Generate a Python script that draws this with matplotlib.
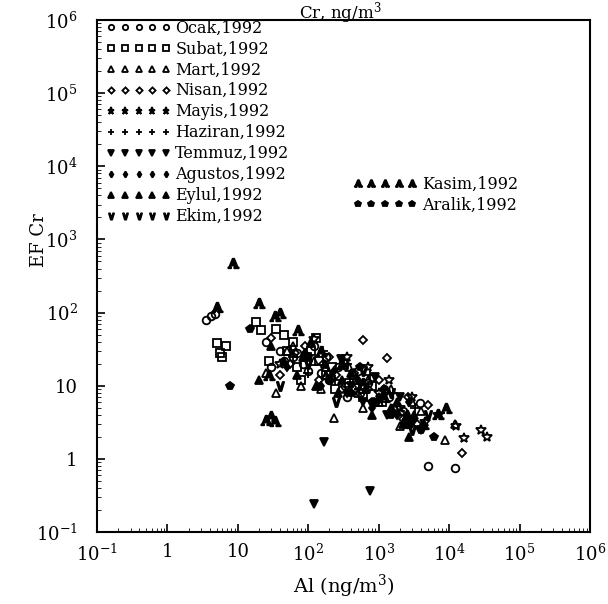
import numpy as np
import matplotlib
matplotlib.use("Agg")
import matplotlib.pyplot as plt
import matplotlib.ticker as mticker

plt.rcParams['font.family'] = ['DejaVu Serif']
plt.rcParams['mathtext.fontset'] = 'dejavuserif'

# Al (ng/m3) and EF Cr per month
ocak_al = [3.5, 4.1, 4.8, 25, 40, 60, 85, 120, 150, 200, 260, 330, 420, 550, 700, 900, 1200, 1600, 2200, 3000, 3900, 5000, 12000,
           30, 45, 70, 100, 180, 350, 500, 800, 1400, 2500]
ocak_ef = [80, 90, 95, 40, 30, 25, 20, 35, 15, 12, 18, 10, 14, 8, 11, 6, 9, 5, 4.5, 3.5, 5.8, 0.8, 0.75,
           18, 22, 28, 16, 25, 7, 16, 13, 7, 3]
subat_al = [5.0, 5.5, 6.0, 6.7, 18, 21, 35, 45, 60, 80, 110, 140, 180, 240, 320, 450, 600, 800, 1100,
            28, 50, 70, 95, 130, 220, 380]
subat_ef = [38, 28, 25, 35, 75, 58, 60, 50, 40, 12, 30, 22, 14, 9, 20, 12, 7, 10, 6,
            22, 30, 18, 25, 45, 18, 11]
mart_al = [25, 50, 80, 120, 180, 230, 380, 500, 700, 1000, 1500, 2500, 4000, 8700, 12000, 35, 60, 150, 600, 2000, 3000]
mart_ef = [15, 30, 10, 22, 14, 3.6, 18, 8, 12, 6, 9, 4, 4.5, 1.8, 3, 8, 35, 9, 5, 2.8, 6]
nisan_al = [30, 55, 90, 140, 200, 300, 450, 600, 850, 1300, 1800, 2600, 3500, 5000, 15000, 40, 65, 160, 250, 700, 1000, 2200]
nisan_ef = [45, 20, 35, 12, 25, 9, 15, 42, 6, 24, 5, 7, 3, 5.5, 1.2, 14, 28, 20, 14, 9, 12, 3.5]
mayis_al = [40, 120, 200, 350, 500, 700, 1000, 1400, 2000, 3000, 4500, 7000, 12500, 16000, 28000, 34000]
mayis_ef = [20, 44, 15, 25, 10, 18, 8, 12, 5, 7, 3.2, 4, 2.8, 1.9, 2.5, 2.0]
haziran_al = [60, 100, 160, 240, 360, 520, 750, 1100, 1600, 2300, 3300]
haziran_ef = [25, 15, 30, 12, 20, 9, 14, 6, 8, 4, 5]
temmuz_al = [120, 760, 165, 290, 400, 600, 900, 1300, 2000, 3000, 4000]
temmuz_ef = [0.24, 0.36, 1.7, 23, 10, 6, 13, 4, 7, 3, 2.5]
agustos_al = [50, 90, 150, 230, 350, 500, 800, 1200, 1800, 2700]
agustos_ef = [18, 28, 10, 16, 8, 12, 5, 9, 4, 6]
eylul_al = [20, 45, 70, 110, 170, 260, 400, 650, 1000, 1500, 2200, 3200, 30, 85, 130, 300, 800, 1800, 2700]
eylul_ef = [12, 22, 14, 40, 20, 8, 15, 9, 7, 5, 3, 4, 35, 25, 10, 12, 4, 6, 2]
ekim_al = [40, 100, 250, 600, 1500, 3000, 5000]
ekim_ef = [10, 20, 6, 16, 8, 2.5, 4]
kasim_al = [8.4, 5.0, 20, 34, 40, 72, 25, 30, 34, 28, 150, 300, 600, 1200, 2500, 4200, 6900, 8900]
kasim_ef = [470, 120, 137, 90, 100, 57, 3.4, 3.8, 3.3, 14, 30, 20, 11, 7, 4, 3, 4.1, 5]
aralik_al = [7.8, 15, 550, 100, 200, 400, 800, 1500, 2500, 4000, 6000]
aralik_ef = [10, 60, 18, 25, 12, 8, 6, 4, 3, 2.5, 2]

months = ["Ocak,1992", "Subat,1992", "Mart,1992", "Nisan,1992", "Mayis,1992",
          "Haziran,1992", "Temmuz,1992", "Agustos,1992", "Eylul,1992", "Ekim,1992",
          "Kasim,1992", "Aralik,1992"]
series = [(ocak_al, ocak_ef), (subat_al, subat_ef), (mart_al, mart_ef),
          (nisan_al, nisan_ef), (mayis_al, mayis_ef), (haziran_al, haziran_ef),
          (temmuz_al, temmuz_ef), (agustos_al, agustos_ef), (eylul_al, eylul_ef),
          (ekim_al, ekim_ef), (kasim_al, kasim_ef), (aralik_al, aralik_ef)]
# marker, size, filled
styles = [('o', 5.5, False), ('s', 5.5, False), ('^', 5.5, False), ('D', 4.5, False),
          ('*', 7.5, False), ('+', 6.5, False), ('v', 5.5, True), ('d', 4.5, True),
          ('^', 5.5, True), (r'$\vee$', 6.5, True), (r'$\mathbf{A}$', 7.5, True),
          ('p', 5.5, True)]

fig = plt.figure(figsize=(6.08, 6.04), dpi=100)
ax = fig.add_axes([97/608, 1-532/604, (590-97)/608, (532-20)/604])

handles = []
for (xs, ys), (m, s, filled), lab in zip(series, styles, months):
    h, = ax.plot(xs, ys, ls='none', marker=m, ms=s, color='k',
                 mfc='k' if filled else 'none', mew=1.3, label=lab)
    handles.append(h)

ax.set_xscale('log')
ax.set_yscale('log')
ax.set_xlim(0.1, 1e6)
ax.set_ylim(0.1, 1e6)

def fmt(v, pos):
    e = int(round(np.log10(v)))
    if e == 0:
        return '1'
    if e == 1:
        return '10'
    return r'$10^{%d}$' % e

for a in (ax.xaxis, ax.yaxis):
    a.set_major_locator(mticker.LogLocator(base=10, numticks=20))
    a.set_minor_locator(mticker.LogLocator(base=10, subs=np.arange(2, 10), numticks=20))
    a.set_major_formatter(mticker.FuncFormatter(fmt))
    a.set_minor_formatter(mticker.NullFormatter())
ax.tick_params(which='both', direction='in', top=False, right=False, labelsize=13)
ax.tick_params(axis='y', which='major', pad=14)
ax.tick_params(axis='x', which='major', pad=8)
ax.tick_params(which='major', length=6, width=1.2)
ax.tick_params(which='minor', length=3)
for sp in ax.spines.values():
    sp.set_linewidth(1.5)

leg1 = ax.legend(handles=handles[:10], loc='upper left', bbox_to_anchor=(0.0, 1.02),
                 numpoints=5, frameon=False, fontsize=11.5, handlelength=4.0,
                 handletextpad=0.3, labelspacing=0.25, borderaxespad=0.2,
                 markerscale=0.7)
ax.add_artist(leg1)
ax.legend(handles=handles[10:], loc='upper left', bbox_to_anchor=(0.5, 0.715),
          numpoints=5, frameon=False, fontsize=11.5, handlelength=4.0,
          handletextpad=0.3, labelspacing=0.25, borderaxespad=0.2,
          markerscale=0.7)

fig.text(0.56, 0.978, r'Cr, ng/m$^3$', ha='center', va='center', fontsize=12)
ax.set_xlabel(r'Al (ng/m$^3$)', fontsize=14, labelpad=6)
ax.set_ylabel('EF Cr', fontsize=13)
ax.yaxis.set_label_coords(-0.10, 0.57)

fig.savefig('out.png', dpi=100)
